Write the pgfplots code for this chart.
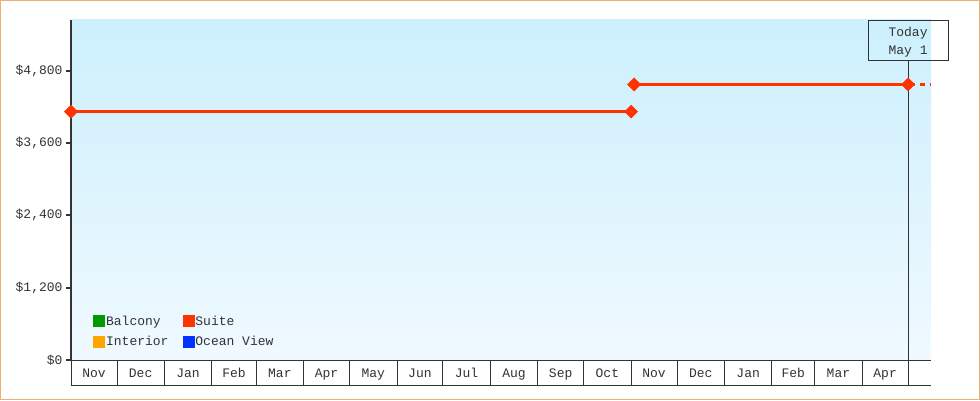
\documentclass[border=0pt]{standalone}
\usepackage{pgfplots}
\pgfplotsset{compat=1.18}
\usepackage{fontspec}
\setmainfont{Liberation Mono}
\definecolor{ink}{HTML}{333333}
\definecolor{frame}{HTML}{EDB073}
\definecolor{bgtop}{HTML}{CCF0FD}
\definecolor{bgbot}{HTML}{F0F9FF}
\definecolor{suite}{HTML}{FF3300}
\definecolor{balcony}{HTML}{009900}
\definecolor{interior}{HTML}{FFA500}
\definecolor{oceanview}{HTML}{0033FF}

\begin{document}
\begin{tikzpicture}[x=1bp,y=1bp,font=\fontsize{13bp}{16bp}\selectfont,text=ink]
\fill[white] (0,0) rectangle (980,400);
\draw[frame,line width=1bp] (0.5,0.5) rectangle (979.5,399.5);
\begin{axis}[
  at={(71bp,40bp)}, anchor=south west,
  scale only axis, width=860bp, height=340bp,
  xmin=0, xmax=562, ymin=0, ymax=5640,
  clip=false,
  axis background/.style={shade, top color=bgtop, bottom color=bgbot, draw=none},
  axis lines*=left,
  x axis line style={ink, line width=0.8bp},
  y axis line style={ink, line width=2bp},
  tick align=outside,
  major tick length=5bp,
  minor tick length=25bp,
  ytick={0,1200,2400,3600,4800},
  ytick style={ink, line width=2bp},
  yticklabel={\$\pgfmathprintnumber{\tick}},
  /pgf/number format/.cd, 1000 sep={,}, assume math mode=true, /pgfplots/.cd,
  yticklabel style={text=ink},
  xtick={15,45.5,76.5,106.5,136.5,167,197.5,228,258.5,289.5,320,350.5,381,411.5,442.5,472,501.5,532},
  xticklabels={Nov,Dec,Jan,Feb,Mar,Apr,May,Jun,Jul,Aug,Sep,Oct,Nov,Dec,Jan,Feb,Mar,Apr},
  major x tick style={draw=none},
  minor xtick={0,30,61,92,121,152,182,213,243,274,305,335,366,396,427,458,486,517},
  minor x tick style={ink, line width=0.8bp},
  xticklabel style={anchor=base, yshift=-12bp, text=ink},
  legend columns=2,
  legend cell align=left,
  legend style={at={(axis description cs:0.0256,0.032)}, anchor=south west,
    draw=none, fill=none, inner sep=0pt, row sep=7bp,
    nodes={inner sep=1.5bp, text=ink},
    /tikz/every even column/.append style={column sep=12.5bp}},
]
\addlegendimage{legend image code/.code={\fill[balcony] (0bp,-5.5bp) rectangle (11bp,5.5bp);}}
\addlegendentry{Balcony}
\addlegendimage{legend image code/.code={\fill[suite] (0bp,-5.5bp) rectangle (11bp,5.5bp);}}
\addlegendentry{Suite}
\addlegendimage{legend image code/.code={\fill[interior] (0bp,-5.5bp) rectangle (11bp,5.5bp);}}
\addlegendentry{Interior}
\addlegendimage{legend image code/.code={\fill[oceanview] (0bp,-5.5bp) rectangle (11bp,5.5bp);}}
\addlegendentry{Ocean View}

% Suite price history
\addplot[forget plot, suite, line width=3bp, mark=square*, mark size=3.4bp, mark options={rotate=45}]
  coordinates {(0,4120) (366,4120)};
\addplot[forget plot, suite, line width=3bp, mark=square*, mark size=3.4bp, mark options={rotate=45}]
  coordinates {(368,4570) (547,4570)};
\addplot[forget plot, suite, line width=3bp, dash pattern=on 5bp off 5bp, dash phase=-2bp]
  coordinates {(547,4570) (562,4570)};

% bottom of month band
\draw[ink, line width=0.8bp] ([yshift=-25bp]axis cs:0,0) -- ([yshift=-25bp]axis cs:562,0);
% today marker
\coordinate (tb) at ([yshift=-40bp]axis cs:547,5640);
\draw[ink, line width=0.8bp] ([yshift=-25bp]axis cs:547,0) -- (tb);
\draw[ink, line width=0.8bp] ([xshift=-40bp]tb) rectangle ([xshift=40bp,yshift=40bp]tb);
\node[align=center, inner sep=0pt, font=\fontsize{13bp}{18bp}\selectfont] at ([yshift=18bp]tb) {Today\\May 1};
\end{axis}
\end{tikzpicture}
\end{document}
